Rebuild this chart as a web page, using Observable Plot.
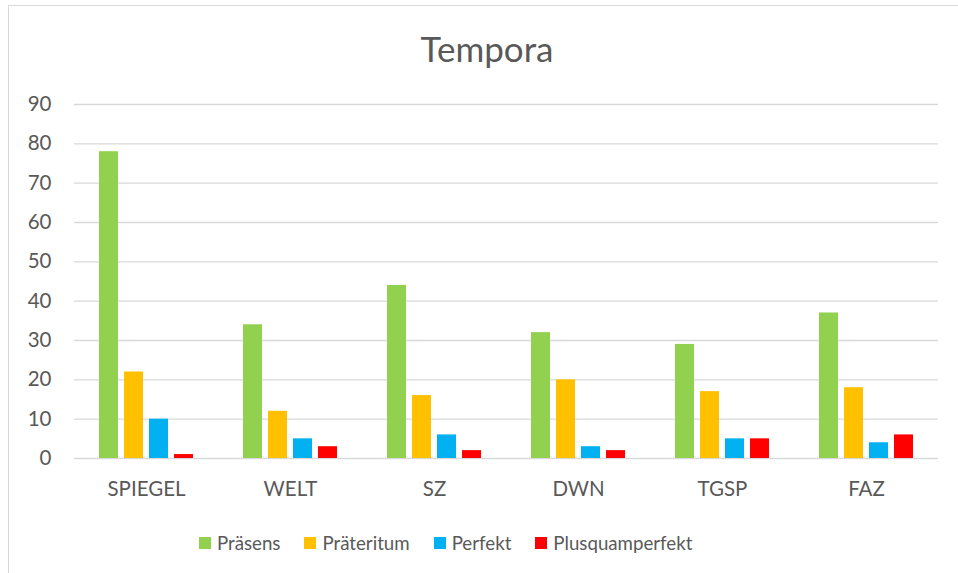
<!DOCTYPE html>
<html>
<head>
<meta charset="utf-8">
<script src="https://cdn.jsdelivr.net/npm/d3@7"></script>
<script src="https://cdn.jsdelivr.net/npm/@observablehq/plot@0.6"></script>
<style>
  html, body { margin: 0; padding: 0; background: #fff; }
  #wrap { position: relative; width: 958px; height: 573px; overflow: hidden; font-family: Lato, "Open Sans", sans-serif; color: #595959; }
  #frame { position: absolute; left: 8px; top: 5px; width: 980px; height: 600px; border: 1.5px solid #d9d9d9; box-sizing: border-box; }
  #title { position: absolute; left: 0; width: 974px; top: 31px; line-height: 35px; text-align: center; font-size: 35px; color: #595959; }
  #chart { position: absolute; left: 0; top: 80px; }
  #legend { position: absolute; top: 531px; left: 199px; display: flex; gap: 24px; font-size: 18.7px; line-height: 24px; color: #595959; }
  .item { display: flex; align-items: center; gap: 6px; }
  .sw { width: 12px; height: 12px; display: inline-block; }
</style>
</head>
<body>
<div id="wrap">
  <div id="frame"></div>
  <div id="title">Tempora</div>
  <div id="chart"></div>
  <div id="legend"></div>
</div>
<script>
const papers = ["SPIEGEL", "WELT", "SZ", "DWN", "TGSP", "FAZ"];
const tenses = ["Präsens", "Präteritum", "Perfekt", "Plusquamperfekt"];
const colors = ["#92D050", "#FFC000", "#00B0F0", "#FF0000"];
const praesens = [78, 34, 44, 32, 29, 37];
const praeteritum = [22, 12, 16, 20, 17, 18];
const perfekt = [10, 5, 6, 3, 5, 4];
const plusquamperfekt = [1, 3, 2, 2, 5, 6];
const yTicks = [0, 10, 20, 30, 40, 50, 60, 70, 80, 90];

const series = [praesens, praeteritum, perfekt, plusquamperfekt];
const data = [];
papers.forEach((p, i) => {
  tenses.forEach((t, j) => data.push({paper: p, tense: t, value: series[j][i]}));
});

const plot = Plot.plot({
  width: 958,
  height: 428,
  marginLeft: 72,
  marginRight: 19,
  marginTop: 24,
  marginBottom: 50,
  style: {fontFamily: "Lato, 'Open Sans', sans-serif", fontSize: "20.5px", color: "#595959", background: "transparent"},
  fx: {domain: papers, padding: 0, label: null, axis: "bottom", tickSize: 0, tickPadding: 23},
  x: {domain: tenses, paddingInner: 0.23, paddingOuter: 0.894, axis: null},
  y: {domain: [0, 90], label: null, ticks: yTicks, tickSize: 0, tickPadding: 23},
  color: {domain: tenses, range: colors},
  marks: [
    Plot.ruleY(yTicks, {stroke: "#d9d9d9", strokeWidth: 1.3}),
    Plot.barY(data, {fx: "paper", x: "tense", y: "value", fill: "tense"})
  ]
});
document.getElementById("chart").appendChild(plot);

const legend = document.getElementById("legend");
tenses.forEach((t, j) => {
  const it = document.createElement("div");
  it.className = "item";
  const sw = document.createElement("span");
  sw.className = "sw";
  sw.style.background = colors[j];
  const lb = document.createElement("span");
  lb.textContent = t;
  it.appendChild(sw); it.appendChild(lb);
  legend.appendChild(it);
});
</script>
</body>
</html>
